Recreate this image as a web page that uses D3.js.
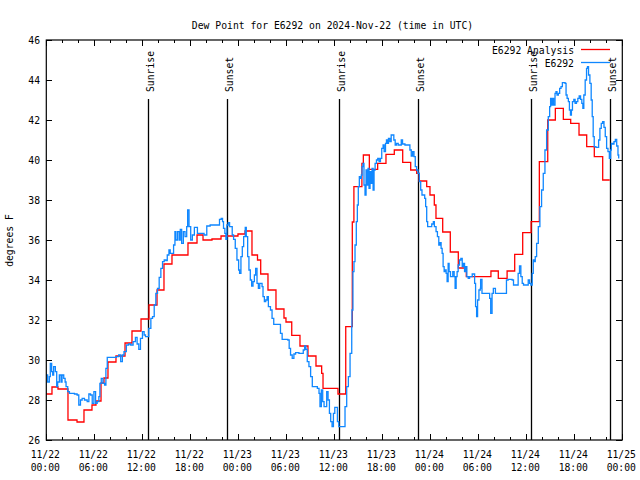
<!DOCTYPE html>
<html><head><meta charset="utf-8">
<script src="https://cdn.jsdelivr.net/npm/d3@7/dist/d3.min.js"></script>
<style>
body{margin:0;background:#fff}
text{font-family:"DejaVu Sans Mono","Liberation Mono",monospace;font-size:11px;fill:#000}
</style>
</head><body>
<svg id="chart" width="640" height="480"></svg>
<script>
const title = "Dew Point for E6292 on 2024-Nov-22 (time in UTC)";
const yLabel = "degrees F";
const yTicks = [26,28,30,32,34,36,38,40,42,44,46];
const xTickHours = [0,6,12,18,24,30,36,42,48,54,60,66,72];
const xTickDates = ["11/22","11/22","11/22","11/22","11/23","11/23","11/23","11/23","11/24","11/24","11/24","11/24","11/25"];
const xTickTimes = ["00:00","06:00","12:00","18:00","00:00","06:00","12:00","18:00","00:00","06:00","12:00","18:00","00:00"];
const xMinorHours = d3.range(0, 73, 2);
const sunHours = [12.75, 22.63, 36.59, 46.5, 60.62, 70.5];
const sunLabels = ["Sunrise","Sunset","Sunrise","Sunset","Sunrise","Sunset"];
const seriesNames = ["E6292 Analysis","E6292"];
const seriesColors = ["#ff0000","#0f87ff"];

// Analysis (hours since 11/22 00:00 UTC, step values)
const analysisHours = [0,0.71,1.46,2.71,3.84,4.71,5.71,6.21,6.84,7.21,7.71,8.71,9.84,10.71,11.84,12.84,13.84,14.71,15.71,17.71,18.84,19.59,20.71,21.84,23.96,24.84,25.71,26.4,26.8,27.71,28.71,29.71,29.96,30.68,31.71,32.71,33.71,34.42,34.59,36.46,37.43,38.25,38.45,39.45,39.63,40.38,41.42,42.46,43.5,44.55,45.55,46.3,46.6,47.55,47.96,48.5,48.71,49.55,50.5,51.5,52.5,55.58,56.5,57.6,58.55,59.55,60.6,61.63,62.68,63.63,64.63,65.55,66.59,67.55,68.5,69.55,70.43];
const analysisValues = [28.3,28.65,28.55,27.0,26.9,27.5,27.75,27.95,28.85,29.1,29.9,30.2,30.85,31.45,32.05,32.75,33.5,34.8,35.25,35.85,36.25,36.0,36.05,36.2,36.3,36.45,35.25,35.0,34.3,33.5,32.55,32.1,31.9,31.23,30.7,30.2,29.7,29.33,28.58,28.3,31.67,36.9,38.67,39.83,40.25,39.53,39.83,40.28,40.5,39.88,39.5,39.33,38.95,38.67,38.25,37.75,37.08,36.4,35.4,34.6,34.17,34.45,34.08,34.45,35.28,36.37,36.92,39.92,42.0,42.58,42.03,41.83,41.25,40.67,40.17,39.0,39.0];

// Observations
const obsHours = [0,0.17,0.38,0.5,0.67,0.8,0.92,1.13,1.3,1.42,1.63,1.84,1.97,2.18,2.35,2.47,2.68,2.89,3.52,3.85,4.06,4.27,4.48,4.77,5.11,5.32,5.53,5.74,5.95,6.16,6.36,6.57,6.7,6.87,7.08,7.29,7.45,7.62,7.91,8.33,8.75,9.05,9.3,9.51,9.71,10.01,10.3,10.55,10.85,11.14,11.35,11.56,11.77,12.02,12.23,12.4,12.65,12.81,13.07,13.28,13.49,13.69,13.9,14.11,14.32,14.53,14.74,14.95,15.12,15.33,15.49,15.74,15.91,16.08,16.2,16.41,16.62,16.75,16.92,17.13,17.34,17.55,17.67,17.84,18.05,18.26,18.51,18.89,19.43,19.72,20.06,20.48,21.1,21.4,21.65,21.86,22.03,22.15,22.32,22.45,22.57,22.74,22.91,23.07,23.24,23.41,23.62,23.83,24.04,24.16,24.33,24.5,24.67,24.87,25.0,25.17,25.33,25.5,25.67,25.84,26.01,26.17,26.34,26.51,26.68,26.84,26.97,27.09,27.26,27.43,27.6,27.76,28.02,28.22,28.43,28.77,29.06,29.27,29.48,29.9,30.19,30.36,30.53,30.74,30.95,31.16,31.58,31.91,32.12,32.29,32.45,32.62,32.83,33.04,33.25,33.54,33.88,34.09,34.21,34.38,34.55,34.72,34.88,35.05,35.22,35.39,35.55,35.72,35.89,36.06,36.23,36.39,36.56,36.81,37.1,37.34,37.55,37.76,37.97,38.18,
38.21,38.33,38.46,38.59,38.75,38.88,39.0,39.13,39.26,39.38,39.47,39.59,39.71,39.84,39.97,40.09,40.22,40.34,40.47,40.6,40.72,40.85,40.97,41.1,41.27,41.43,41.6,41.77,41.93,42.1,42.23,42.4,42.52,42.65,42.77,42.94,43.11,43.28,43.44,43.61,43.78,43.99,44.2,44.37,44.53,44.83,45.24,45.45,45.62,45.79,45.96,46.12,46.29,46.46,46.63,46.8,46.96,47.13,47.3,47.42,47.55,47.67,47.97,48.18,48.38,48.51,48.72,48.89,49.06,49.22,49.35,49.48,49.6,49.73,49.85,49.98,50.1,50.23,50.35,50.52,50.64,50.81,50.98,51.1,51.23,51.35,51.48,51.65,51.82,51.99,52.15,52.28,52.4,52.57,52.74,52.91,53.07,53.24,53.41,53.54,53.66,53.79,53.91,54.08,54.25,
54.29,54.46,54.8,55.22,55.42,55.55,55.72,55.88,56.14,56.47,56.89,57.31,57.52,57.73,58.06,58.23,58.4,58.56,58.82,58.98,59.15,59.32,59.49,59.65,59.82,60.07,60.24,60.41,60.57,60.74,60.87,60.99,61.12,61.29,61.5,61.7,61.91,62.12,62.33,62.54,62.75,62.92,63.04,63.17,63.29,63.42,63.59,63.71,63.84,64.01,64.17,64.34,64.51,64.68,64.85,64.97,65.1,65.26,65.39,65.52,65.64,65.77,65.94,66.1,66.27,66.44,66.61,66.78,66.94,67.07,67.19,67.36,67.53,67.65,67.78,67.95,68.11,68.24,68.36,68.49,68.7,68.87,69.04,69.2,69.37,69.54,69.71,69.87,70.04,70.21,70.38,70.54,70.63,70.79,70.96,71.13,71.3,71.46,71.55];
const obsValues = [29.25,28.9,29.17,29.83,29.42,29.25,29.67,29.42,28.67,28.9,29.25,28.9,29.25,29.08,28.9,28.67,28.42,28.33,28.3,28.25,27.75,28.0,28.08,28.0,27.92,28.3,28.25,27.83,28.42,27.83,27.92,28.17,28.83,29.08,28.83,28.75,29.58,30.13,30.13,30.13,30.17,30.25,29.92,30.25,30.42,30.75,30.8,30.75,30.92,31.13,30.8,30.53,31.08,31.42,31.25,31.17,31.17,31.58,32.08,32.17,32.75,33.33,33.58,34.13,34.58,34.92,35.0,34.97,35.25,35.5,35.33,35.33,35.75,36.42,36.0,36.42,36.0,36.53,35.83,36.42,36.17,36.67,37.5,36.67,36.0,36.25,36.63,36.33,36.33,36.25,36.7,36.75,36.75,36.75,37.03,37.08,36.92,36.58,36.33,36.03,36.75,36.87,36.67,36.67,36.25,36.03,35.58,35.0,34.5,34.33,35.17,35.67,36.17,36.63,36.17,35.17,34.5,34.0,33.7,33.92,34.25,34.58,33.83,33.58,33.83,33.83,33.67,33.17,32.92,33.0,33.17,32.67,32.5,32.08,31.78,31.78,31.78,31.33,31.03,31.03,31.0,30.58,30.25,30.08,30.3,30.37,30.33,30.33,30.5,30.7,30.53,29.92,29.67,29.17,28.67,28.67,28.58,28.33,27.67,28.5,27.92,27.67,27.67,28.42,28.0,27.33,26.92,26.67,27.33,27.63,27.63,26.92,26.67,26.67,26.67,27.67,28.67,29.17,30.33,31.67,
32.5,34.42,34.92,35.75,36.92,37.75,38.67,39.17,39.08,39.25,39.67,39.83,38.75,38.25,39.5,38.75,39.58,38.58,39.42,38.83,39.58,38.5,39.5,39.83,40.0,40.08,39.92,40.08,40.58,40.75,40.42,40.83,41.0,40.83,41.08,40.92,41.25,41.25,41.0,40.75,40.83,40.75,40.75,41.0,40.8,40.75,40.75,40.5,40.2,40.42,40.17,39.67,39.5,39.33,38.92,38.5,38.25,38.25,38.08,37.67,36.92,36.67,36.67,36.8,36.92,36.67,36.42,36.17,35.75,35.87,35.58,35.33,34.67,34.42,34.5,34.33,33.92,34.83,34.42,34.17,34.17,34.42,34.17,33.58,34.17,34.42,34.75,35.0,35.08,34.67,34.83,34.42,34.67,34.17,34.08,34.17,34.17,34.3,34.3,33.83,32.67,32.17,33.0,33.5,33.58,
34.03,33.33,33.33,33.33,33.08,32.33,33.33,33.58,33.33,33.33,33.33,33.33,34.0,34.03,34.03,34.0,33.75,33.75,33.75,34.33,34.7,34.17,33.83,33.75,33.75,33.75,34.0,33.83,33.75,34.33,35.0,34.92,35.17,35.83,36.67,37.67,38.5,39.33,40.5,41.5,42.17,42.67,43.08,42.75,43.08,42.75,43.33,43.42,43.25,43.33,43.58,43.67,43.87,43.87,43.83,43.25,43.08,42.92,42.5,42.25,42.5,42.92,43.03,42.83,42.92,43.08,43.2,43.03,42.83,42.58,43.25,44.0,44.58,44.67,44.25,43.83,43.0,42.17,41.17,40.67,40.63,40.63,41.0,41.58,41.83,41.92,41.63,41.17,40.58,40.42,40.08,40.5,40.83,40.8,40.92,41.03,40.7,40.25,40.08];

const svg = d3.select("#chart");
const L = 46.3, R = 622.3, T = 40, B = 440;
const x = d3.scaleLinear().domain([0, 72]).range([L, R]);
const y = d3.scaleLinear().domain([26, 46]).range([B, T]);
const CW = 5.86;
function mono(sel){
  sel.each(function(){
    const n = this.textContent.length;
    this.setAttribute("textLength", (n*CW).toFixed(2));
    this.setAttribute("lengthAdjust","spacingAndGlyphs");
  });
}

// title
svg.append("text").attr("x", 332.5).attr("y", 28.5).attr("text-anchor","middle").text(title).call(mono);

// y label
svg.append("text").attr("transform","translate(13,240.5) rotate(-90)").attr("text-anchor","middle").text(yLabel).call(mono);

const g = svg.append("g");

// axes ticks (inward, mirrored)
const axB = g.append("g").attr("transform",`translate(0,${B})`).call(d3.axisBottom(x).tickValues(xTickHours).tickSizeInner(-6).tickSizeOuter(0).tickFormat(""));
const axBm = g.append("g").attr("transform",`translate(0,${B})`).call(d3.axisBottom(x).tickValues(xMinorHours).tickSizeInner(-3).tickSizeOuter(0).tickFormat(""));
const axT = g.append("g").attr("transform",`translate(0,${T})`).call(d3.axisTop(x).tickValues(xTickHours).tickSizeInner(-6).tickSizeOuter(0).tickFormat(""));
const axTm = g.append("g").attr("transform",`translate(0,${T})`).call(d3.axisTop(x).tickValues(xMinorHours).tickSizeInner(-3).tickSizeOuter(0).tickFormat(""));
const axL = g.append("g").attr("transform",`translate(${L},0)`).call(d3.axisLeft(y).tickValues(yTicks).tickSizeInner(-6).tickSizeOuter(0).tickFormat(""));
const axR = g.append("g").attr("transform",`translate(${R},0)`).call(d3.axisRight(y).tickValues(yTicks).tickSizeInner(-6).tickSizeOuter(0).tickFormat(""));
[axB,axBm,axT,axTm,axL,axR].forEach(a => { a.select(".domain").remove(); a.selectAll("line").attr("stroke","#000").attr("stroke-width",1).attr("shape-rendering","crispEdges"); });

// y tick labels
g.selectAll(".ylab").data(yTicks).enter().append("text")
  .attr("x", 40).attr("y", d => y(d) + 4).attr("text-anchor","end").text(d => d).call(mono);

// x tick labels
g.selectAll(".xlab1").data(xTickHours).enter().append("text")
  .attr("x", d => x(d) - 1).attr("y", 458).attr("text-anchor","middle").text((d,i) => xTickDates[i]).call(mono);
g.selectAll(".xlab2").data(xTickHours).enter().append("text")
  .attr("x", d => x(d) - 1).attr("y", 470.5).attr("text-anchor","middle").text((d,i) => xTickTimes[i]).call(mono);

// sunrise / sunset lines
g.selectAll(".sun").data(sunHours).enter().append("line")
  .attr("x1", d => Math.round(x(d)) + 0.5).attr("x2", d => Math.round(x(d)) + 0.5)
  .attr("y1", 99).attr("y2", B).attr("stroke","#000").attr("stroke-width",1.3);
g.selectAll(".sunlab").data(sunHours).enter().append("text")
  .attr("transform", d => `translate(${Math.round(x(d)) + 5.5},92) rotate(-90)`)
  .attr("text-anchor","start").text((d,i) => sunLabels[i]).call(mono);

// series
const analysis = analysisHours.map((h,i) => [h, analysisValues[i]]);
const obs = obsHours.map((h,i) => [h, obsValues[i]]);
g.append("path").datum(analysis)
  .attr("d", d3.line().x(d => x(d[0])).y(d => y(d[1])).curve(d3.curveStepAfter))
  .attr("fill","none").attr("stroke",seriesColors[0]).attr("stroke-width",1.3);
g.append("path").datum(obs)
  .attr("d", d3.line().x(d => x(d[0])).y(d => y(d[1])).curve(d3.curveStepAfter))
  .attr("fill","none").attr("stroke",seriesColors[1]).attr("stroke-width",1.3);

// border
g.append("rect").attr("x", L).attr("y", T).attr("width", R - L).attr("height", B - T)
  .attr("fill","none").attr("stroke","#000").attr("stroke-width",1.2);

// legend
const leg = g.append("g");
seriesNames.forEach((name, i) => {
  const ly = 49.5 + i * 13;
  leg.append("text").attr("x", 574).attr("y", ly + 4.5).attr("text-anchor","end").text(name).call(mono);
  leg.append("line").attr("x1", 581).attr("x2", 610).attr("y1", ly).attr("y2", ly)
    .attr("stroke", seriesColors[i]).attr("stroke-width", 1.3);
});
</script>
</body></html>
